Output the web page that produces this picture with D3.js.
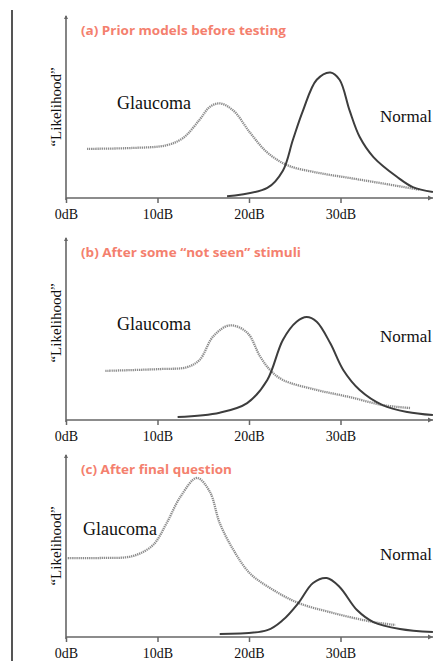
<!DOCTYPE html>
<html>
<head>
<meta charset="utf-8">
<script src="https://cdn.jsdelivr.net/npm/d3@7"></script>
<style>
  html, body { margin: 0; padding: 0; background: #fff; }
  svg { display: block; }
</style>
</head>
<body>
<svg id="chart" width="433" height="661"></svg>
<script>
// ---- data ----
const xTickValues = [0, 10, 20, 30];
const xTickLabels = ["0dB", "10dB", "20dB", "30dB"];
const panelTitles = ["(a) Prior models before testing", "(b) After some “not seen” stimuli", "(c) After final question"];
const seriesNames = ["Glaucoma", "Normal"];
const yLabel = "“Likelihood”";

// [dB, likelihood]
const glaucomaA = [[2.3,0.27],[7.3,0.275],[11.0,0.29],[12.8,0.33],[14.6,0.43],[15.7,0.50],[16.8,0.52],[18.3,0.48],[20.1,0.36],[22.0,0.25],[24.2,0.18],[27.4,0.14],[31.0,0.11],[34.6,0.08],[38.7,0.045]];
const normalA   = [[17.6,0.01],[22.0,0.055],[23.7,0.15],[24.8,0.32],[25.9,0.48],[27.4,0.65],[28.9,0.69],[29.9,0.65],[31.0,0.48],[32.1,0.335],[33.6,0.225],[36.2,0.115],[37.9,0.06],[40.1,0.033]];
const glaucomaB = [[4.3,0.27],[10.3,0.28],[13.2,0.29],[14.6,0.33],[16.1,0.46],[17.9,0.52],[19.8,0.48],[21.2,0.35],[22.3,0.275],[23.7,0.22],[27.4,0.165],[31.0,0.126],[34.6,0.082],[37.6,0.066]];
const normalB   = [[12.2,0.016],[16.8,0.04],[19.8,0.093],[22.0,0.22],[23.7,0.44],[25.2,0.54],[26.3,0.566],[27.4,0.54],[28.9,0.42],[30.3,0.275],[32.1,0.165],[34.6,0.082],[37.3,0.044],[40.1,0.027]];
const glaucomaC = [[0,0.434],[3.7,0.434],[7.3,0.445],[9.5,0.505],[11.0,0.626],[12.5,0.77],[14.3,0.874],[15.7,0.80],[16.8,0.626],[18.3,0.478],[20.1,0.35],[22.6,0.26],[25.4,0.187],[29.2,0.132],[33.6,0.082],[36.0,0.066]];
const normalC   = [[16.8,0.016],[22.0,0.038],[23.7,0.093],[25.4,0.187],[27.0,0.297],[28.5,0.324],[29.9,0.275],[31.8,0.148],[33.6,0.082],[36.5,0.044],[40.1,0.027]];

const panelGlaucoma = [glaucomaA, glaucomaB, glaucomaC];
const panelNormal = [normalA, normalB, normalC];

// ---- layout ----
const axisY = [198, 420, 637];
const panelH = 182;
const glaucomaLabelPos = [[117, -89], [117, -90], [83, -102]];
const normalLabelPos = [[380, -76], [380, -78], [380, -77]];
const likelihoodCY = [107, 323, 546];
const titleWidths = [205, 220, 151];

const svg = d3.select("#chart");
const x = d3.scaleLinear().domain([0, 40]).range([66, 432]);

// left bar
svg.append("line").attr("x1", 12).attr("x2", 12).attr("y1", 10).attr("y2", 661)
  .attr("stroke", "#555").attr("stroke-width", 2);

const axisColor = "#666";
const serif = "'Liberation Serif', 'Times New Roman', serif";

panelTitles.forEach((title, i) => {
  const y0 = axisY[i];
  const y = d3.scaleLinear().domain([0, 1]).range([y0, y0 - panelH]);
  const g = svg.append("g");

  // x axis
  const ax = d3.axisBottom(x).tickValues(xTickValues)
    .tickFormat((d, k) => xTickLabels[k]).tickSize(5).tickSizeOuter(0).tickPadding(6);
  const axG = g.append("g").attr("transform", `translate(0,${y0})`).call(ax);
  axG.select(".domain").remove();
  axG.selectAll(".tick line").attr("stroke", axisColor).attr("stroke-width", 1.5);
  axG.selectAll(".tick text")
    .attr("font-family", serif)
    .attr("font-size", 14).attr("fill", "#111");

  g.append("line").attr("x1", x(0)).attr("x2", 433).attr("y1", y0).attr("y2", y0)
    .attr("stroke", axisColor).attr("stroke-width", 1.6);
  g.append("path").attr("d", `M433,${y0} l-5,-2.5 l0,5 z`).attr("fill", axisColor);

  // y axis
  g.append("line").attr("x1", x(0)).attr("x2", x(0)).attr("y1", y(1)).attr("y2", y0 + 2)
    .attr("stroke", axisColor).attr("stroke-width", 1.6);
  g.append("path").attr("d", `M${x(0)},${y(1) - 1} l-2,4 l4,0 z`).attr("fill", axisColor);

  // y label
  g.append("text")
    .attr("transform", `translate(61,${likelihoodCY[i]}) rotate(-90)`)
    .attr("text-anchor", "middle")
    .attr("font-family", serif)
    .attr("font-size", 15).attr("fill", "#111")
    .text(yLabel);

  // title
  g.append("text").attr("x", 81).attr("y", y(1) + 19)
    .attr("font-family", "'Open Sans', Lato, sans-serif").attr("font-weight", "bold")
    .attr("font-size", 13).attr("fill", "#f4806e")
    .attr("textLength", titleWidths[i]).attr("lengthAdjust", "spacingAndGlyphs")
    .text(title);

  const line = d3.line().x(d => x(d[0])).y(d => y(d[1])).curve(d3.curveCatmullRom.alpha(0.5));

  // glaucoma dotted
  g.append("path").datum(panelGlaucoma[i]).attr("d", line)
    .attr("fill", "none").attr("stroke", "#8c8c8c").attr("stroke-width", 2.3)
    .attr("stroke-dasharray", "1.3,0.8");
  // normal solid
  g.append("path").datum(panelNormal[i]).attr("d", line)
    .attr("fill", "none").attr("stroke", "#3d3d3d").attr("stroke-width", 2);

  // labels
  g.append("text").attr("x", glaucomaLabelPos[i][0]).attr("y", y0 + glaucomaLabelPos[i][1])
    .attr("font-family", serif)
    .attr("font-size", 18).attr("fill", "#111").text(seriesNames[0]);
  g.append("text").attr("x", normalLabelPos[i][0]).attr("y", y0 + normalLabelPos[i][1])
    .attr("font-family", serif)
    .attr("font-size", 17).attr("fill", "#111").text(seriesNames[1]);
});
</script>
</body>
</html>
